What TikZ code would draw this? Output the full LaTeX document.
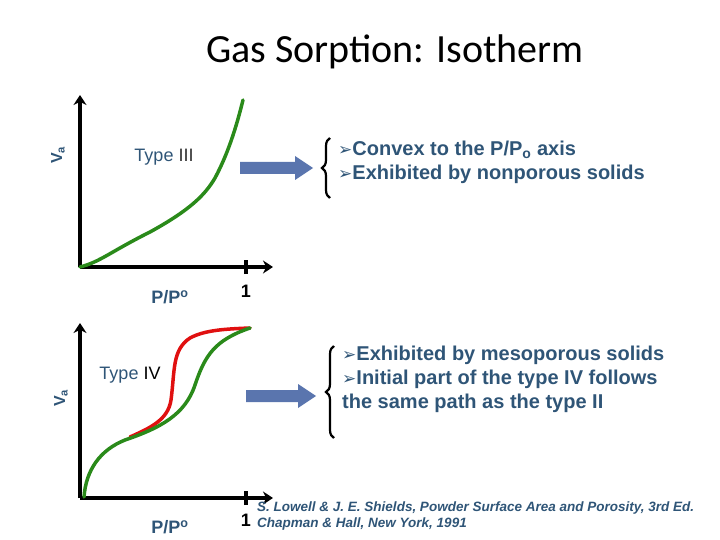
\documentclass[tikz,border=0pt]{standalone}
\usepackage{fontspec}
\setmainfont{Liberation Sans}
\newfontfamily\titlefont{Carlito}
\newfontfamily\symfont{DejaVu Sans}
\usetikzlibrary{decorations.pathreplacing,arrows.meta}
\definecolor{txt}{HTML}{2F5577}
\definecolor{arr}{HTML}{5A75AE}
\definecolor{grn}{HTML}{2A8A1A}
\definecolor{rd}{HTML}{E01010}
\tikzset{
 axis/.style={line width=3.5pt,-{Stealth[length=10pt,width=13pt]}},
 curveg/.style={grn,line width=3.5pt,line cap=round},
 curver/.style={rd,line width=3.5pt,line cap=round},
 lab/.style={text=txt,font=\bfseries\fontsize{18}{20}\selectfont,inner sep=0},
 bul/.style={text=txt,font=\bfseries\fontsize{20}{24}\selectfont,align=left,anchor=north west,inner sep=0},
 bigarrow/.style={fill=arr},
 brace/.style={decorate,decoration={brace,amplitude=8pt},line width=2.2pt},
}
\newcommand{\bl}{{\symfont\mdseries\fontsize{17}{17}\selectfont ➢}}
\begin{document}
\begin{tikzpicture}[x=1pt,y=-1pt]
\useasboundingbox (0,0) rectangle (720,540);
\node[font=\titlefont\fontsize{40}{42}\selectfont] (title) at (395,52) {Gas Sorption: Isotherm};
% top graph
\coordinate (o1) at (80,267);
\coordinate (yt1) at (80,95);
\coordinate (xt1) at (273,267);
\draw[axis] (o1) -- (yt1);
\draw[axis] (o1) -- (xt1);
\coordinate (tk1) at (246,267);
\draw[line width=3.5pt] ([yshift=-7pt]tk1) -- ([yshift=7pt]tk1);
\draw[curveg] (o1) .. controls (100,262) and (110,252) .. (150,232) .. controls (190,210) and (205,195) .. (215,178) .. controls (230,150) and (238,120) .. (243,100);
\node[lab,font=\bfseries\fontsize{16}{18}\selectfont,rotate=90] (va1) at (58,155) {V\textsubscript{a}};
\node[lab,font=\fontsize{18}{20}\selectfont] (t3) at (164,157) {Type \textcolor{black!80}{III}};
\node[lab] (pp1) at (170,297) {P/P\textsuperscript{o}};
\node[lab,text=black] (one1) at (246,291) {1};
\coordinate (ar1) at (240,168);
\fill[bigarrow] (ar1) ++(0,-6) -- ++(55,0) -- ++(0,-6) -- ++(18,12) -- ++(-18,12) -- ++(0,-6) -- ++(-55,0) -- cycle;
\draw[brace] (330,198) -- (330,138);
\node[bul] (b1) at (338,141) {\bl Convex to the P/P\textsubscript{o} axis\\\bl Exhibited by nonporous solids};
% bottom graph
\coordinate (o2) at (80,498);
\coordinate (yt2) at (80,323);
\coordinate (xt2) at (273,498);
\draw[axis] (o2) -- (yt2);
\draw[axis] (o2) -- (xt2);
\coordinate (tk2) at (246,498);
\draw[line width=3.5pt] ([yshift=-7pt]tk2) -- ([yshift=7pt]tk2);
\draw[curver] (130,437) .. controls (150,428) and (168,420) .. (171,400) .. controls (175,370) and (172,350) .. (190,338) .. controls (205,330) and (225,329) .. (250,328);
\draw[curveg] (84,497) .. controls (86,470) and (100,450) .. (125,440) .. controls (160,428) and (185,415) .. (195,385) .. controls (205,355) and (215,340) .. (250,328);
\node[lab,font=\bfseries\fontsize{16}{18}\selectfont,rotate=90] (va2) at (61,398) {V\textsubscript{a}};
\node[lab,font=\fontsize{18}{20}\selectfont] (t4) at (130,375) {Type \textcolor{black}{IV}};
\node[lab] (pp2) at (170,527) {P/P\textsuperscript{o}};
\node[lab,text=black] (one2) at (246,520) {1};
\coordinate (ar2) at (246,396);
\fill[bigarrow] (ar2) ++(0,-6) -- ++(52,0) -- ++(0,-6) -- ++(18,12) -- ++(-18,12) -- ++(0,-6) -- ++(-52,0) -- cycle;
\draw[brace] (334,438) -- (334,346);
\node[bul] (b2) at (342,346) {\bl Exhibited by mesoporous solids\\\bl Initial part of the type IV follows\\the same path as the type II};
\node[text=txt,font=\bfseries\itshape\fontsize{13.5}{16}\selectfont,align=left,anchor=north west,inner sep=0] (ref) at (257,502) {S. Lowell \& J. E. Shields, Powder Surface Area and Porosity, 3rd Ed.\\Chapman \& Hall, New York, 1991};
\end{tikzpicture}
\end{document}
